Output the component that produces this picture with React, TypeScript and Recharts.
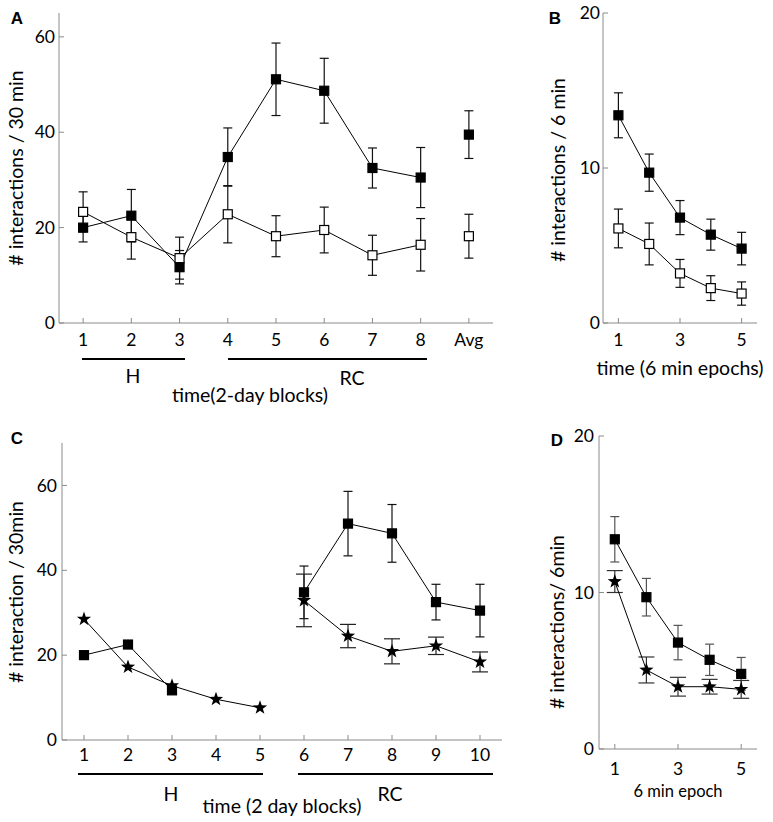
import React from 'react';
import { LineChart, Line, XAxis, YAxis, ErrorBar, ReferenceArea } from 'recharts';

// panel A: 2-day blocks, H = 1-3, RC = 4-8, plus average
const blockLabelsA = ['1', '2', '3', '4', '5', '6', '7', '8', 'Avg'];
const pairedMean = [20.0, 22.5, 11.7, 34.8, 51.1, 48.7, 32.5, 30.5];
const pairedErr = [3.0, 5.5, 3.5, 6.1, 7.6, 6.8, 4.2, 6.3];
const isolatedMean = [23.3, 18.0, 13.6, 22.8, 18.2, 19.5, 14.2, 16.4];
const isolatedErr = [4.2, 4.6, 4.4, 6.0, 4.3, 4.8, 4.2, 5.5];
const pairedAvg = [39.5, 5.0];
const isolatedAvg = [18.2, 4.6];

// panel B / D: 6 min epochs
const epochs = [1, 2, 3, 4, 5];
const epochPairedMean = [13.4, 9.7, 6.8, 5.7, 4.8];
const epochPairedErr = [1.45, 1.2, 1.1, 1.0, 1.05];
const epochIsolatedMean = [6.1, 5.1, 3.2, 2.25, 1.9];
const epochIsolatedErr = [1.25, 1.35, 0.9, 0.8, 0.75];
const epochStarMean = [10.7, 5.05, 3.98, 3.98, 3.81];
const epochStarErr = [0.7, 0.83, 0.6, 0.47, 0.57];

// panel C: 10 blocks, H = 1-5, RC = 6-10
const blocksC = [1, 2, 3, 4, 5, 6, 7, 8, 9, 10];
const starMean = [28.5, 17.2, 12.8, 9.6, 7.6, 32.9, 24.5, 20.9, 22.2, 18.4];
const starErrRC = [6.2, 2.75, 2.95, 2.05, 2.35];
const squareMeanH = [20.0, 22.5, 11.7];
const squareMeanRC = [34.8, 51.0, 48.7, 32.5, 30.5];
const squareErrRC = [6.2, 7.6, 6.8, 4.2, 6.2];

const FONT = 'Lato, "Open Sans", sans-serif';
const AXIS = '#8a8a8a';
const TITLE = 19.5;

const dataA = blockLabelsA.map((_, i) => ({
  x: i + 1,
  p: i < 8 ? pairedMean[i] : null,
  pe: i < 8 ? pairedErr[i] : null,
  o: i < 8 ? isolatedMean[i] : null,
  oe: i < 8 ? isolatedErr[i] : null,
  pAvg: i === 8 ? pairedAvg[0] : null,
  pAvgE: i === 8 ? pairedAvg[1] : null,
  oAvg: i === 8 ? isolatedAvg[0] : null,
  oAvgE: i === 8 ? isolatedAvg[1] : null,
}));

const dataB = epochs.map((e, i) => ({
  x: e,
  p: epochPairedMean[i],
  pe: epochPairedErr[i],
  o: epochIsolatedMean[i],
  oe: epochIsolatedErr[i],
  s: epochStarMean[i],
  se: epochStarErr[i],
}));

const dataC = blocksC.map((b, i) => ({
  x: b,
  sH: i < 5 ? starMean[i] : null,
  sRC: i >= 5 ? starMean[i] : null,
  sRCe: i >= 5 ? starErrRC[i - 5] : null,
  qH: i < 3 ? squareMeanH[i] : null,
  qRC: i >= 5 ? squareMeanRC[i - 5] : null,
  qRCe: i >= 5 ? squareErrRC[i - 5] : null,
}));

const squareDot = (filled: boolean) => (props: any) => {
  const { cx, cy, value, index } = props;
  if (cx == null || cy == null || value == null) return <g key={'n' + index} />;
  return (
    <rect key={'q' + index} x={cx - 4.5} y={cy - 4.5} width={9} height={9}
      fill={filled ? '#000' : '#fff'} stroke="#000" strokeWidth={1.2} />
  );
};

const starPoints = (cx: number, cy: number, r: number, ri: number) => {
  const pts: string[] = [];
  for (let k = 0; k < 10; k++) {
    const rad = k % 2 === 0 ? r : ri;
    const a = -Math.PI / 2 + (k * Math.PI) / 5;
    pts.push(`${cx + rad * Math.cos(a)},${cy + rad * Math.sin(a)}`);
  }
  return pts.join(' ');
};

const starDot = (props: any) => {
  const { cx, cy, value, index } = props;
  if (cx == null || cy == null || value == null) return <g key={'n' + index} />;
  return <polygon key={'s' + index} points={starPoints(cx, cy, 7.5, 3)} fill="#000" />;
};

const tickStyle = { fill: '#000', fontSize: 17.5, fontFamily: FONT };

const Box = () => (
  <ReferenceArea fill="none" stroke={AXIS} strokeWidth={1.2} ifOverflow="visible" />
);

const Txt = ({ x, y, text, size = TITLE, rotate = false, bold = false, family = FONT }: any) => (
  <div
    style={{
      position: 'absolute', left: x, top: y, whiteSpace: 'nowrap',
      transform: `translate(-50%, -50%)${rotate ? ' rotate(-90deg)' : ''}`,
      fontSize: size, fontFamily: family, fontWeight: bold ? 700 : 400, color: '#000', lineHeight: 1,
    }}
  >
    {text}
  </div>
);

const Bar = ({ x1, x2, y }: any) => (
  <div style={{ position: 'absolute', left: x1, top: y - 1, width: x2 - x1, height: 2, background: '#000' }} />
);

const LETTER = '"Liberation Sans", Arial, sans-serif';

export default function App() {
  return (
    <div style={{ position: 'absolute', left: 0, top: 0, width: 773, height: 822, background: '#fff' }}>
      {/* A */}
      <div style={{ position: 'absolute', left: 0, top: 0 }}>
        <LineChart width={500} height={360} data={dataA} margin={{ top: 13, right: 7, left: 0, bottom: 0 }}>
          <XAxis dataKey="x" type="number" domain={[0.5, 9.5]} ticks={[1, 2, 3, 4, 5, 6, 7, 8, 9]}
            tickFormatter={(v) => blockLabelsA[v - 1]} height={37} tickSize={-5} tickMargin={16}
            stroke={AXIS} tick={tickStyle} />
          <YAxis type="number" domain={[0, 65]} ticks={[0, 20, 40, 60]} width={59} tickSize={-5}
            tickMargin={9} stroke={AXIS} tick={tickStyle} />
          <Box />
          <Line dataKey="p" stroke="#000" strokeWidth={1} dot={squareDot(true)} isAnimationActive={false}>
            <ErrorBar dataKey="pe" direction="y" width={4.5} stroke="#111" strokeWidth={1.2} />
          </Line>
          <Line dataKey="o" stroke="#000" strokeWidth={1} dot={squareDot(false)} isAnimationActive={false}>
            <ErrorBar dataKey="oe" direction="y" width={4.5} stroke="#111" strokeWidth={1.2} />
          </Line>
          <Line dataKey="pAvg" stroke="none" dot={squareDot(true)} isAnimationActive={false}>
            <ErrorBar dataKey="pAvgE" direction="y" width={4.5} stroke="#111" strokeWidth={1.2} />
          </Line>
          <Line dataKey="oAvg" stroke="none" dot={squareDot(false)} isAnimationActive={false}>
            <ErrorBar dataKey="oAvgE" direction="y" width={4.5} stroke="#111" strokeWidth={1.2} />
          </Line>
        </LineChart>
      </div>

      {/* B */}
      <div style={{ position: 'absolute', left: 500, top: 0 }}>
        <LineChart width={273} height={360} data={dataB} margin={{ top: 13, right: 16, left: 0, bottom: 0 }}>
          <XAxis dataKey="x" type="number" domain={[0.5, 5.5]} ticks={[1, 3, 5]} height={37}
            tickSize={-5} tickMargin={16} stroke={AXIS} tick={tickStyle} />
          <YAxis type="number" domain={[0, 20]} ticks={[0, 10, 20]} width={103} tickSize={-5}
            tickMargin={8} stroke={AXIS} tick={tickStyle} />
          <Box />
          <Line dataKey="p" stroke="#000" strokeWidth={1} dot={squareDot(true)} isAnimationActive={false}>
            <ErrorBar dataKey="pe" direction="y" width={4.5} stroke="#111" strokeWidth={1.2} />
          </Line>
          <Line dataKey="o" stroke="#000" strokeWidth={1} dot={squareDot(false)} isAnimationActive={false}>
            <ErrorBar dataKey="oe" direction="y" width={4.5} stroke="#111" strokeWidth={1.2} />
          </Line>
        </LineChart>
      </div>

      {/* C */}
      <div style={{ position: 'absolute', left: 0, top: 400 }}>
        <LineChart width={520} height={380} data={dataC} margin={{ top: 43, right: 18, left: 0, bottom: 0 }}>
          <XAxis dataKey="x" type="number" domain={[0.5, 10.5]} ticks={blocksC} height={40}
            tickSize={-5} tickMargin={14} stroke={AXIS} tick={tickStyle} />
          <YAxis type="number" domain={[0, 70]} ticks={[0, 20, 40, 60]} width={62} tickSize={-5}
            tickMargin={10} stroke={AXIS} tick={tickStyle} />
          <Box />
          <Line dataKey="qH" stroke="#000" strokeWidth={1} dot={squareDot(true)} isAnimationActive={false} />
          <Line dataKey="qRC" stroke="#000" strokeWidth={1} dot={squareDot(true)} isAnimationActive={false}>
            <ErrorBar dataKey="qRCe" direction="y" width={4.5} stroke="#111" strokeWidth={1.2} />
          </Line>
          <Line dataKey="sH" stroke="#000" strokeWidth={1} dot={starDot} isAnimationActive={false} />
          <Line dataKey="sRC" stroke="#000" strokeWidth={1} dot={starDot} isAnimationActive={false}>
            <ErrorBar dataKey="sRCe" direction="y" width={8} stroke="#222" strokeWidth={1.2} />
          </Line>
        </LineChart>
      </div>

      {/* D */}
      <div style={{ position: 'absolute', left: 500, top: 400 }}>
        <LineChart width={273} height={400} data={dataB} margin={{ top: 36, right: 16, left: 0, bottom: 0 }}>
          <XAxis dataKey="x" type="number" domain={[0.5, 5.5]} ticks={[1, 3, 5]} height={51}
            tickSize={-5} tickMargin={19} stroke={AXIS} tick={tickStyle} />
          <YAxis type="number" domain={[0, 20]} ticks={[0, 10, 20]} width={99} tickSize={-5}
            tickMargin={10} stroke={AXIS} tick={tickStyle} />
          <Box />
          <Line dataKey="p" stroke="#000" strokeWidth={1} dot={squareDot(true)} isAnimationActive={false}>
            <ErrorBar dataKey="pe" direction="y" width={4.5} stroke="#555" strokeWidth={1.2} />
          </Line>
          <Line dataKey="s" stroke="#000" strokeWidth={1} dot={starDot} isAnimationActive={false}>
            <ErrorBar dataKey="se" direction="y" width={8} stroke="#333" strokeWidth={1.2} />
          </Line>
        </LineChart>
      </div>

      {/* panel letters */}
      <Txt x={17} y={18} text="A" size={17} bold family={LETTER} />
      <Txt x={555} y={18} text="B" size={17} bold family={LETTER} />
      <Txt x={17} y={438} text="C" size={17} bold family={LETTER} />
      <Txt x={557} y={440} text="D" size={17} bold family={LETTER} />

      {/* A titles */}
      <Txt x={16} y={168} text="# interactions / 30 min" rotate />
      <Bar x1={82} x2={185} y={359} />
      <Bar x1={228} x2={427} y={359} />
      <Txt x={133} y={376} text="H" />
      <Txt x={352} y={378} text="RC" />
      <Txt x={250} y={395} text="time(2-day blocks)" />

      {/* B titles */}
      <Txt x={558} y={170} text="# interactions / 6 min" rotate />
      <Txt x={680} y={368} text="time (6 min epochs)" />

      {/* C titles */}
      <Txt x={16} y={592} text="# interaction / 30min" rotate />
      <Bar x1={78} x2={263} y={774} />
      <Bar x1={298} x2={493} y={774} />
      <Txt x={171} y={794} text="H" />
      <Txt x={390} y={794} text="RC" />
      <Txt x={282} y={806} text="time (2 day blocks)" />

      {/* D titles */}
      <Txt x={557} y={622} text="# interactions/ 6min" rotate />
      <Txt x={678} y={791} text="6 min epoch" size={16.5} />
    </div>
  );
}
